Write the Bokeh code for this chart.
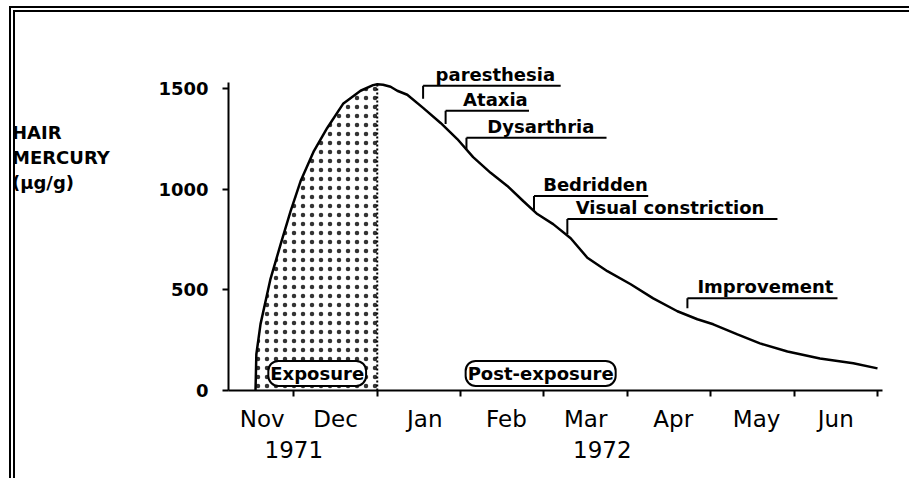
from bokeh.plotting import figure
from bokeh.layouts import row
from bokeh.models import FixedTicker, LinearAxis, Range1d, Label, ColumnDataSource, Div
from bokeh.core.properties import value
from bokeh.embed import file_html
from bokeh.resources import INLINE

# x = months since 1 Nov 1971
curve_month = [0.54, 0.55, 0.60, 0.72, 0.84, 0.96, 1.08, 1.24, 1.40, 1.59, 1.80, 1.95, 2.00,
               2.07, 2.16, 2.24, 2.36, 2.55, 2.76, 2.96, 3.15, 3.36, 3.56, 3.75, 3.92, 4.11,
               4.32, 4.52, 4.76, 5.04, 5.31, 5.60, 5.84, 6.03, 6.32, 6.59, 6.92, 7.31, 7.71, 8.00]
curve_hg = [0, 180, 330, 555, 725, 890, 1040, 1190, 1305, 1425, 1490, 1518, 1522,
            1520, 1510, 1490, 1470, 1405, 1330, 1250, 1160, 1082, 1017, 942, 877, 827,
            757, 660, 593, 528, 458, 394, 354, 329, 279, 234, 194, 159, 135, 110]
exposure_end = 2.0  # 1 Jan 1972

month_bounds = [1, 2, 3, 4, 5, 6, 7, 8]
month_label_pos = [0.62, 1.5, 2.57, 3.55, 4.5, 5.55, 6.55, 7.5]
month_labels = ["Nov", "Dec", "Jan", "Feb", "Mar", "Apr", "May", "Jun"]
year_pos = [1.0, 4.7]
year_labels = ["1971", "1972"]
y_ticks = [0, 500, 1000, 1500]
title_lines = ["HAIR", "MERCURY", "(\u00b5g/g)"]

event_names = ["paresthesia", "Ataxia", "Dysarthria", "Bedridden", "Visual constriction", "Improvement"]
event_month = [2.55, 2.82, 3.07, 3.88, 4.28, 5.72]
event_top = [1515, 1390, 1256, 967, 852, 458]
event_bottom = [1450, 1325, 1201, 892, 777, 409]
event_end = [4.20, 3.82, 4.75, 5.25, 6.80, 7.52]
event_text_month = [2.70, 3.03, 3.32, 3.99, 4.38, 5.84]

phase_names = ["Exposure", "Post-exposure"]
phase_month = [1.28, 3.96]
phase_level = [85, 85]

FONT = "DejaVu Sans"

p = figure(width=764, height=466, x_range=Range1d(0.216, 8.06), y_range=Range1d(0, 1700),
           output_backend="svg", toolbar_location=None, x_axis_type=None, y_axis_type=None,
           min_border_left=83, min_border_right=27, min_border_top=36, min_border_bottom=88)
p.grid.visible = False
p.outline_line_color = None

yaxis = LinearAxis(ticker=FixedTicker(ticks=y_ticks), bounds=(0, 1530),
                   axis_line_width=2, major_tick_out=6, major_tick_in=0, major_tick_line_width=2,
                   minor_tick_out=0, minor_tick_in=0, major_label_standoff=14,
                   major_label_text_font=FONT, major_label_text_font_style="bold",
                   major_label_text_font_size="18px", major_label_text_color="black")
p.add_layout(yaxis, "left")

xaxis = LinearAxis(ticker=FixedTicker(ticks=month_label_pos, minor_ticks=month_bounds),
                   major_label_overrides={c: m for c, m in zip(month_label_pos, month_labels)},
                   axis_line_width=2, major_tick_line_color=None, major_tick_out=6, major_tick_in=0,
                   minor_tick_out=6, minor_tick_in=0, minor_tick_line_width=2,
                   major_label_standoff=9, major_label_text_font=FONT,
                   major_label_text_font_size="23px", major_label_text_color="black")
p.add_layout(xaxis, "below")

yearaxis = LinearAxis(ticker=FixedTicker(ticks=year_pos),
                      major_label_overrides={c: y for c, y in zip(year_pos, year_labels)},
                      axis_line_color=None, major_tick_line_color=None, major_tick_out=0, major_tick_in=0,
                      minor_tick_out=0, minor_tick_in=0, major_label_standoff=6,
                      major_label_text_font=FONT, major_label_text_font_size="23px",
                      major_label_text_color="black")
p.add_layout(yearaxis, "below")

# stippled exposure area
exp_x = [m for m in curve_month if m <= exposure_end]
exp_y = curve_hg[:len(exp_x)]
p.varea(x=exp_x, y1=[0] * len(exp_x), y2=exp_y, fill_alpha=0,
        hatch_pattern="dot", hatch_color="black", hatch_scale=9, hatch_weight=1.0, hatch_alpha=0.8)
p.segment(x0=[exposure_end], y0=[0], x1=[exposure_end], y1=[exp_y[-1]],
          line_color="black", line_width=2, line_dash="2 2")

# curve
p.line(curve_month, curve_hg, line_color="black", line_width=2.5)

# event brackets
src = ColumnDataSource(dict(name=event_names, x=event_month, top=event_top, bottom=event_bottom,
                            end=event_end, tx=event_text_month))
p.segment(x0="x", y0="bottom", x1="x", y1="top", source=src, line_color="black", line_width=2)
p.segment(x0="x", y0="top", x1="end", y1="top", source=src, line_color="black", line_width=2)
p.text(x="tx", y="top", text="name", source=src, text_font=value(FONT), text_font_style="bold",
       text_font_size="18px", text_baseline="bottom", text_align="left", y_offset=-1,
       text_color="black")

for name, m, lv in zip(phase_names, phase_month, phase_level):
    p.add_layout(Label(x=m, y=lv, text=name, text_align="center", text_baseline="middle",
                       text_font=FONT, text_font_style="bold", text_font_size="18px",
                       text_color="black", background_fill_color="white",
                       border_line_color="black", border_line_width=2, border_radius=10, padding=2))

title_html = ('<div style="padding-top:108px;margin-left:-3px;font-family:\'DejaVu Sans\';'
              'font-weight:bold;font-size:18px;line-height:25px;color:black;white-space:nowrap">'
              + "<br>".join(t.replace("\u00b5", "&micro;") for t in title_lines) + "</div>")
title = Div(text=title_html, width=130, height=466, margin=0)

layout = row(title, p, spacing=0)
layout.styles = {"border-left": "6px double black", "border-top": "6px double black",
                 "margin-left": "9px", "margin-top": "6px"}

open("out.html", "w").write(file_html(layout, INLINE))
